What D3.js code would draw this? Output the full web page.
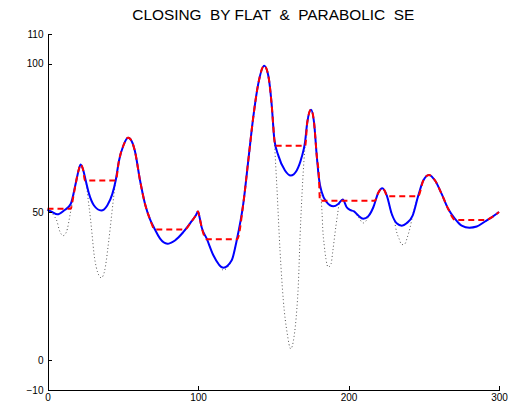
<!DOCTYPE html>
<html>
<head>
<meta charset="utf-8">
<script src="https://cdn.jsdelivr.net/npm/d3@7"></script>
<style>
  html, body { margin: 0; padding: 0; background: #fff; }
  svg { display: block; }
  .axis text { font-family: "Liberation Sans", Arial, sans-serif; font-size: 10px; fill: #000; }
  .axis path, .axis line { stroke: #000; stroke-width: 1; shape-rendering: crispEdges; }
</style>
</head>
<body>
<svg id="chart" width="508" height="403"></svg>
<script>
// Closing of a 1-D signal by a flat and a parabolic structuring element
// values as [x, y] pairs

var titleText = "CLOSING  BY FLAT  &  PARABOLIC  SE";
var xTicks = [0, 100, 200, 300];
var yTicks = [-10, 0, 50, 100, 110];

// original signal (dotted)
var signal = [
  [0, 50.7], [3, 49.6], [5, 48.2], [6.5, 46.6], [7.6, 44.3], [9.2, 42.5], [10.3, 42], [11.4, 42.3],
  [13.2, 44.3], [14.5, 47.7], [15.5, 50.5], [17.1, 55], [18.7, 59.5], [20.9, 64.5], [22, 66],
  [23.8, 64], [25.4, 60.6], [26.2, 57.8], [27.1, 53.9], [28.7, 47.1], [29.8, 41.5], [30.9, 35.9],
  [32.4, 31.4], [34.2, 28.6], [35.7, 27.8], [37, 28.6], [38, 30.3], [39.1, 33.7], [40.2, 38.2],
  [41.5, 43.8], [42.7, 49.4], [43.7, 53.9], [45.3, 60.6], [47.5, 67.3], [50.5, 72.5], [53.5, 75],
  [55, 74.6], [58, 70.7], [61.5, 60.6], [64.8, 52.7], [68, 47.7], [71.4, 44.1], [74.8, 41],
  [79.6, 39.3], [84.7, 40.4], [90.2, 43.2], [95.8, 46.9], [98.5, 48.8], [100, 50.2], [101, 48.3],
  [102.4, 44.9], [105.8, 41], [110.2, 35.4], [113.5, 32.6], [116.8, 30.4], [120, 31.6],
  [122.4, 33.7], [125.7, 40.4], [130.1, 52.8], [133.4, 67.3], [136.7, 81.9], [140, 93.1],
  [144, 99.3], [146.7, 96], [149, 85.9], [150.7, 74.6], [151.6, 66], [152.3, 59.5], [154.5, 37],
  [156.7, 20.2], [159.3, 9], [161.6, 3.9], [163.8, 7.9], [165.6, 16.8], [166.7, 25.8],
  [167.8, 41.5], [168.9, 53.9], [170.4, 67.3], [171.5, 74.5], [172.6, 80.2], [175.1, 84.5],
  [177.1, 80.2], [178.9, 69], [180.4, 61.2], [181.7, 55], [182.4, 49.9], [182.9, 44.3],
  [183.9, 38.7], [185, 34.2], [186.5, 31.4], [188.4, 32.5], [189.5, 36.5], [190.6, 41],
  [191.7, 45.5], [192.8, 49.4], [193.7, 52.5], [196.2, 54.2], [198.8, 51.6], [201, 50.7],
  [203.7, 50], [206.5, 48.3], [209.8, 46.3], [213.2, 48.2], [216.5, 51.6], [219.8, 56.5],
  [222.5, 58], [225.4, 55.6], [228.7, 49.2], [230.4, 47.1], [232, 43.2], [233.6, 41], [235.4, 39],
  [237.5, 39.3], [239.1, 41.5], [240.9, 44.7], [242.6, 48.8], [246.4, 55.6], [249.7, 60.6],
  [253.5, 62.5], [257.5, 60.6], [261.9, 56.1], [266.3, 51], [270.8, 47.7], [275.2, 45.4],
  [280.3, 44.7], [285.2, 45.1], [290.7, 46.8], [295.1, 48.2], [300, 50]
];

// closing by parabolic SE (solid blue)
var parabolic = [
  [0, 50.7], [3, 50], [6.5, 49.2], [11, 50.5], [15.4, 52.7], [18.7, 59.5], [20.9, 64.5], [22, 66],
  [23.8, 64], [25.4, 60.6], [27.6, 56.1], [30.9, 52.2], [35.7, 50.5], [39.7, 52.2], [43.1, 56.1],
  [45.3, 60.6], [47.5, 67.3], [50.5, 72.5], [53.5, 75], [55, 74.6], [58, 70.7], [61.5, 60.6],
  [64.8, 52.7], [68, 47.7], [71.4, 44.1], [74.8, 41], [79.6, 39.3], [84.7, 40.4], [90.2, 43.2],
  [95.8, 46.9], [98.5, 48.8], [100, 50.2], [101, 48.3], [102.4, 44.9], [105.8, 41], [110.2, 35.4],
  [116.8, 31.2], [122.4, 33.7], [125.7, 40.4], [130.1, 52.8], [133.4, 67.3], [136.7, 81.9],
  [140, 93.1], [144, 99.3], [146.7, 96], [149, 85.9], [150.7, 74.6], [153.4, 69], [157.8, 64],
  [161.6, 62.3], [165.6, 64], [168.9, 68.5], [171.1, 73.5], [172.6, 80.2], [175.1, 84.5],
  [177.1, 80.2], [178.9, 69], [180.4, 61.2], [182.2, 56.7], [185.5, 53.3], [189.9, 51.9],
  [193.2, 52.7], [196.2, 54.2], [198.8, 51.6], [201, 50.7], [203.7, 50.2], [206.5, 48.8],
  [209.8, 47.7], [213.2, 48.6], [216.5, 51.6], [219.8, 56.5], [222.5, 58], [225.4, 55.6],
  [228.7, 49.4], [232, 46.2], [235.4, 45.4], [238.6, 46.2], [242.6, 48.8], [246.4, 55.6],
  [249.7, 60.6], [253.5, 62.5], [257.5, 60.6], [261.9, 56.1], [266.3, 51], [270.8, 47.7],
  [275.2, 45.4], [280.3, 44.7], [285.2, 45.1], [290.7, 46.8], [295.1, 48.2], [300, 50]
];

// closing by flat SE (dashed red)
var flat = [
  [0, 51.1], [15.4, 51.1], [17.1, 55], [18.7, 59.5], [20.9, 64.5], [22, 66], [23.8, 64],
  [24.8, 60.6], [45.3, 60.6], [47.5, 67.3], [50.5, 72.5], [53.5, 75], [55, 74.6], [58, 70.7],
  [61.5, 60.6], [64.8, 52.7], [68, 47.7], [71.4, 44.1], [91.2, 44.1], [95.8, 46.9], [98.5, 48.8],
  [100, 50.2], [101, 48.3], [102.4, 44.9], [105.8, 40.8], [126, 40.8], [130.1, 52.8],
  [133.4, 67.3], [136.7, 81.9], [140, 93.1], [144, 99.3], [146.7, 96], [149, 85.9],
  [150.7, 74.6], [151.2, 72.3], [171.2, 72.3], [172.6, 80.2], [175.1, 84.5], [177.1, 80.2],
  [178.9, 69], [180.4, 61.2], [181, 53.8], [217.4, 53.8], [219.8, 56.5], [222.5, 58],
  [224.2, 57], [225.6, 55.3], [246.2, 55.3], [249.7, 60.6], [253.5, 62.5], [257.5, 60.6],
  [261.9, 56.1], [266.3, 51], [270.9, 47.3], [291.4, 47.3], [295.1, 48.2], [300, 50]
];

(function () {
  "use strict";

  var svg = d3.select("#chart");

  // --- Scales ---
  var x = d3.scaleLinear().domain([0, 300]).range([47.5, 499]);
  var y = d3.scaleLinear().domain([-10, 110]).range([390, 34]);

  var line = d3.line()
    .x(function (d) { return x(d[0]); })
    .y(function (d) { return y(d[1]); })
    .curve(d3.curveMonotoneX);

  // --- Series ---
  svg.append("path")
    .datum(signal)
    .attr("d", line)
    .attr("fill", "none")
    .attr("stroke", "#555")
    .attr("stroke-width", 1)
    .attr("stroke-dasharray", "1,2.5");

  svg.append("path")
    .datum(parabolic)
    .attr("d", line)
    .attr("fill", "none")
    .attr("stroke", "#0000ff")
    .attr("stroke-width", 2);

  svg.append("path")
    .datum(flat)
    .attr("d", line)
    .attr("fill", "none")
    .attr("stroke", "#ff0000")
    .attr("stroke-width", 2)
    .attr("stroke-dasharray", "6,4");

  // --- Axes (ticks point inward, no box) ---
  svg.append("g")
    .attr("class", "axis")
    .attr("transform", "translate(0," + y(-10) + ")")
    .call(d3.axisBottom(x).tickValues(xTicks).tickSizeInner(-4).tickSizeOuter(0).tickPadding(4));

  svg.append("g")
    .attr("class", "axis")
    .attr("transform", "translate(" + x(0) + ",0)")
    .call(d3.axisLeft(y).tickValues(yTicks).tickSizeInner(-4).tickSizeOuter(0).tickPadding(4));

  // --- Title ---
  svg.append("text")
    .attr("x", (x(0) + x(300)) / 2)
    .attr("y", 20)
    .attr("text-anchor", "middle")
    .attr("font-family", "Liberation Sans, Arial, sans-serif")
    .attr("font-size", "15.4px")
    .style("white-space", "pre")
    .text(titleText);
})();
</script>
</body>
</html>
